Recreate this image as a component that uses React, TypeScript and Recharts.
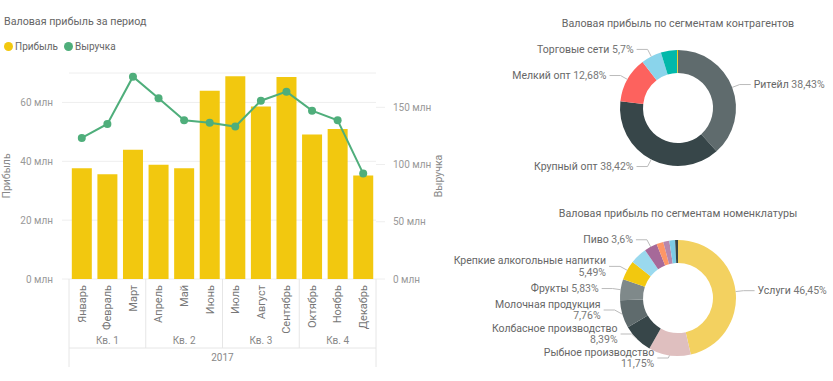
import React from 'react';
import {
  ComposedChart,
  Bar,
  Line,
  XAxis,
  YAxis,
  CartesianGrid,
  PieChart,
  Pie,
  Cell,
} from 'recharts';

// --- data (млн) ---
const months = ['Январь', 'Февраль', 'Март', 'Апрель', 'Май', 'Июнь', 'Июль', 'Август', 'Сентябрь', 'Октябрь', 'Ноябрь', 'Декабрь'];
const quarters = ['Кв. 1', 'Кв. 2', 'Кв. 3', 'Кв. 4'];
const year = '2017';
const profit = [37.6, 35.6, 43.9, 38.8, 37.6, 64.0, 68.9, 58.6, 68.6, 49.1, 51.0, 35.2];
const revenue = [123.3, 135.5, 176.8, 157.9, 138.7, 136.6, 133.2, 155.8, 163.7, 147.1, 138.7, 92.1];
const profitTicks = [0, 20, 40, 60];
const revenueTicks = [0, 50, 100, 150];

const contragentNames = ['Ритейл', 'Крупный опт', 'Мелкий опт', 'Торговые сети', '', ''];
const contragentShares = [38.43, 38.42, 12.68, 5.7, 4.5, 0.27];
const contragentColors = ['#5F6B6D', '#374649', '#FD625E', '#8AD4EB', '#01B8AA', '#F2C80F'];

const nomenNames = ['Услуги', 'Рыбное производство', 'Колбасное производство', 'Молочная продукция', 'Фрукты', 'Крепкие алкогольные напитки', '', 'Пиво', '', '', '', ''];
const nomenShares = [46.45, 11.75, 8.39, 7.76, 5.83, 5.49, 4.7, 3.6, 1.9, 1.7, 1.6, 0.8];
const nomenColors = ['#F3D160', '#DFBFBF', '#374649', '#5F6B6D', '#7F898A', '#F2C80F', '#9AD9EE', '#A66999', '#FE9666', '#B887AD', '#7CCBE5', '#374649'];

// --- layout ---
const FONT = 'Roboto, "Segoe UI", sans-serif';
const YELLOW = '#F2C80F';
const GREEN = '#4FAE7B';
const SEP = '#E6E6E6';
const LEFT_W = 450;
const H = 381;
const TOP = 73;
const LEFT_AXIS_W = 69;
const RIGHT_AXIS_W = 74;
const XAXIS_H = 102;
const PLOT_W = LEFT_W - LEFT_AXIS_W - RIGHT_AXIS_W;
const BAND = PLOT_W / months.length;
const PLOT_BOTTOM = H - XAXIS_H;

const PIE_CX = 238;
const PIE_CY = 108;
const PIE_R = 58;
const LINE_H = 12;
const WRAP_AT = 15;
const RADIAN = Math.PI / 180;

const barData = months.map((m, i) => ({ month: m, profit: profit[i], revenue: revenue[i] }));
const contragentData = contragentNames.map((n, i) => ({ name: n, value: contragentShares[i] }));
const nomenData = nomenNames.map((n, i) => ({ name: n, value: nomenShares[i] }));

const mln = (v: number) => `${v} млн`;
const pct = (v: number) => `${String(v).replace('.', ',')}%`;

const MonthTick = (props: any) => {
  const { x, payload } = props;
  const i = props.index ?? payload.index;
  const y0 = PLOT_BOTTOM;
  const half = BAND / 2;
  return (
    <g fontFamily={FONT}>
      <text
        x={x}
        y={y0 + 6}
        transform={`rotate(-90, ${x}, ${y0 + 6})`}
        textAnchor="end"
        dy="0.35em"
        fill="#777"
        fontSize={11}
      >
        {payload.value}
      </text>
      {i % 3 === 0 && <line x1={x - half} x2={x - half} y1={y0} y2={y0 + 69} stroke={SEP} />}
      {i === months.length - 1 && <line x1={x + half} x2={x + half} y1={y0} y2={y0 + 88} stroke={SEP} />}
      {i % 3 === 1 && (
        <text x={x} y={y0 + 61} textAnchor="middle" dy="0.35em" fill="#888" fontSize={10}>
          {quarters[Math.floor(i / 3)]}
        </text>
      )}
      {i === 0 && (
        <>
          <line x1={x - half} x2={x - half + PLOT_W} y1={y0 + 69} y2={y0 + 69} stroke={SEP} />
          <line x1={x - half} x2={x - half} y1={y0 + 69} y2={y0 + 88} stroke={SEP} />
        </>
      )}
      {i === 5 && (
        <text x={x + half} y={y0 + 78} textAnchor="middle" dy="0.35em" fill="#888" fontSize={10}>
          {year}
        </text>
      )}
    </g>
  );
};

// place labels radially, then push them apart so they don't collide
type LabelPos = { sx: number; sy: number; mx: number; my: number; right: boolean; lines: number };
function layoutLabels(data: { name: string; value: number }[]): LabelPos[] {
  const total = data.reduce((s, d) => s + d.value, 0);
  let acc = 0;
  const pos: LabelPos[] = data.map((d) => {
    const mid = 90 - ((acc + d.value / 2) / total) * 360;
    acc += d.value;
    const cos = Math.cos(-mid * RADIAN);
    const sin = Math.sin(-mid * RADIAN);
    return {
      sx: PIE_CX + PIE_R * cos,
      sy: PIE_CY + PIE_R * sin,
      mx: PIE_CX + (PIE_R + 8) * cos,
      my: Math.min(PIE_CY + PIE_R + 2, PIE_CY + (PIE_R + 8) * sin),
      right: cos >= 0,
      lines: d.name.length > WRAP_AT ? 2 : 1,
    };
  });
  [true, false].forEach((side) => {
    const idx = data
      .map((d, i) => i)
      .filter((i) => data[i].name && pos[i].right === side)
      .sort((a, b) => pos[b].my - pos[a].my);
    for (let k = 1; k < idx.length; k++) {
      const lo = pos[idx[k - 1]];
      const cur = pos[idx[k]];
      const gap = ((lo.lines + cur.lines) * LINE_H) / 2;
      if (lo.my - cur.my < gap) cur.my = lo.my - gap;
    }
  });
  return pos;
}

const makeLabel = (layout: LabelPos[]) => (props: any) => {
  const { name, value, index } = props;
  if (!name) return null;
  const p = layout[index];
  const ex = p.mx + (p.right ? 11 : -11);
  const tx = ex + (p.right ? 3 : -3);
  const anchor = p.right ? 'start' : 'end';
  return (
    <g fontFamily={FONT} fontSize={10.5}>
      <polyline points={`${p.sx},${p.sy} ${p.mx},${p.my} ${ex},${p.my}`} fill="none" stroke="#BBB" strokeWidth={1} />
      {p.lines === 2 ? (
        <text x={tx} y={p.my} textAnchor={anchor}>
          <tspan x={tx} dy="-0.2em" fill="#666">{name}</tspan>
          <tspan x={tx} dy="1.1em" fill="#777">{pct(value)}</tspan>
        </text>
      ) : (
        <text x={tx} y={p.my} textAnchor={anchor} dy="0.35em">
          <tspan fill="#666">{name} </tspan>
          <tspan fill="#777">{pct(value)}</tspan>
        </text>
      )}
    </g>
  );
};

const titleStyle: React.CSSProperties = {
  position: 'absolute',
  fontFamily: FONT,
  fontSize: 10.7,
  color: '#666',
  whiteSpace: 'nowrap',
  lineHeight: '14px',
};

const Donut = ({ data, colors, top, title }: { data: any[]; colors: string[]; top: number; title: string }) => {
  const layout = layoutLabels(data);
  return (
    <div style={{ position: 'absolute', left: 440, top, width: 393, height: 191 }}>
      <div style={{ ...titleStyle, left: 0, width: 476, textAlign: 'center', top: 17 }}>{title}</div>
      <PieChart
        width={393}
        height={191}
        margin={{ top: 0, right: 0, bottom: 0, left: 0 }}
        style={{ position: 'absolute', left: 0, top: 0 }}
      >
        <Pie
          data={data}
          dataKey="value"
          nameKey="name"
          cx={PIE_CX}
          cy={PIE_CY}
          innerRadius={35}
          outerRadius={PIE_R}
          startAngle={90}
          endAngle={-270}
          stroke="none"
          label={makeLabel(layout)}
          labelLine={false}
          isAnimationActive={false}
        >
          {data.map((d, i) => (
            <Cell key={i} fill={colors[i]} />
          ))}
        </Pie>
      </PieChart>
    </div>
  );
};

const LegendDot = ({ color, label }: { color: string; label: string }) => (
  <span style={{ display: 'inline-flex', alignItems: 'center', marginRight: 6 }}>
    <span style={{ width: 9, height: 9, borderRadius: '50%', background: color, marginRight: 2 }} />
    {label}
  </span>
);

export default function App() {
  return (
    <div style={{ position: 'absolute', left: 0, top: 0, width: 833, height: 381, background: '#fff', overflow: 'hidden' }}>
      <div style={{ ...titleStyle, left: 4, top: 15 }}>Валовая прибыль за период</div>
      <div
        style={{
          position: 'absolute',
          left: 4,
          top: 41,
          fontFamily: FONT,
          fontSize: 10,
          color: '#666',
          display: 'flex',
          whiteSpace: 'nowrap',
        }}
      >
        <LegendDot color={YELLOW} label="Прибыль" />
        <LegendDot color={GREEN} label="Выручка" />
      </div>
      <ComposedChart
        width={LEFT_W}
        height={H}
        data={barData}
        margin={{ top: TOP, right: 0, bottom: 0, left: 0 }}
        barCategoryGap="11%"
        style={{ position: 'absolute', left: 0, top: 0 }}
      >
        <CartesianGrid vertical={false} stroke="#EEE" yAxisId="left" />
        <XAxis
          dataKey="month"
          height={XAXIS_H}
          interval={0}
          axisLine={false}
          tickLine={false}
          tick={<MonthTick />}
        />
        <YAxis
          yAxisId="left"
          width={LEFT_AXIS_W}
          domain={[0, 70]}
          ticks={profitTicks}
          tickFormatter={mln}
          axisLine={false}
          tickLine={{ stroke: '#EEE' }}
          tickSize={7}
          tickMargin={9}
          tick={{ fill: '#999', fontSize: 10, fontFamily: FONT }}
          label={{
            value: 'Прибыль',
            angle: -90,
            position: 'insideLeft',
            offset: 6,
            style: { textAnchor: 'middle', fill: '#888', fontSize: 10.5, fontFamily: FONT },
          }}
        />
        <YAxis
          yAxisId="right"
          orientation="right"
          width={RIGHT_AXIS_W}
          domain={[0, 180]}
          ticks={revenueTicks}
          tickFormatter={mln}
          axisLine={false}
          tickLine={{ stroke: '#EEE' }}
          tickSize={9}
          tickMargin={8}
          tick={{ fill: '#999', fontSize: 10, fontFamily: FONT, textAnchor: 'start' }}
          label={{
            value: 'Выручка',
            angle: -90,
            position: 'insideRight',
            offset: 12,
            style: { textAnchor: 'middle', fill: '#888', fontSize: 10.5, fontFamily: FONT },
          }}
        />
        <Bar yAxisId="left" dataKey="profit" fill={YELLOW} isAnimationActive={false} />
        <Line
          yAxisId="right"
          dataKey="revenue"
          stroke={GREEN}
          strokeWidth={2}
          dot={{ r: 4, fill: GREEN, stroke: GREEN, strokeWidth: 0 }}
          isAnimationActive={false}
        />
      </ComposedChart>
      <Donut data={contragentData} colors={contragentColors} top={0} title="Валовая прибыль по сегментам контрагентов" />
      <Donut data={nomenData} colors={nomenColors} top={190} title="Валовая прибыль по сегментам номенклатуры" />
    </div>
  );
}
